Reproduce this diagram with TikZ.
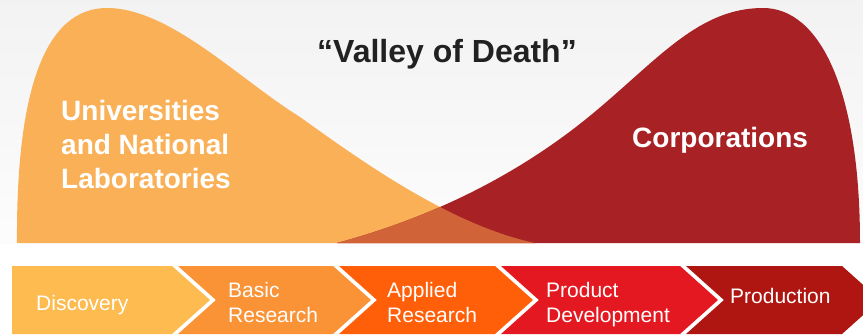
\documentclass[tikz,border=0pt]{standalone}
\usepackage{fontspec}
\setmainfont{Liberation Sans}
\usepackage{xcolor}

\definecolor{uniorange}{RGB}{249,176,87}
\definecolor{corpred}{RGB}{168,34,37}
\definecolor{bothfill}{RGB}{208,100,56}
\definecolor{discoveryfill}{RGB}{253,187,80}
\definecolor{basicfill}{RGB}{250,146,54}
\definecolor{appliedfill}{RGB}{255,95,8}
\definecolor{productfill}{RGB}{228,24,32}
\definecolor{productionfill}{RGB}{175,22,18}

\begin{document}
\begin{tikzpicture}[x=1pt, y=-1pt,
    stage/.style={anchor=north west, inner sep=0pt, align=left, text=white,
                  font=\fontsize{21}{25}\selectfont},
    sector/.style={anchor=north west, inner sep=0pt, align=left, text=white,
                   font=\bfseries\fontsize{28}{34}\selectfont}]
\useasboundingbox (0,0) rectangle (863,335);
\clip (0,0) rectangle (863,335);
\fill[white] (0,0) rectangle (863,335);
\shade[top color=gray!10, bottom color=gray!2] (0,0) rectangle (863,243);

% the two humps
\fill[uniorange] (17,243) .. controls (16,90) and (45,8) .. (107,8)
  .. controls (170,8) and (240,80) .. (300,117)
  .. controls (360,160) and (450,225) .. (535,243) -- cycle;
\fill[corpred] (337,243) .. controls (430,218) and (520,175) .. (597,110)
  .. controls (660,57) and (700,8) .. (763,8)
  .. controls (820,8) and (860,90) .. (860,243) -- cycle;
\begin{scope}
  \clip (17,243) .. controls (16,90) and (45,8) .. (107,8)
    .. controls (170,8) and (240,80) .. (300,117)
    .. controls (360,160) and (450,225) .. (535,243) -- cycle;
  \fill[bothfill] (337,243) .. controls (430,218) and (520,175) .. (597,110)
    .. controls (660,57) and (700,8) .. (763,8)
    .. controls (820,8) and (860,90) .. (860,243) -- cycle;
\end{scope}

\node[anchor=base, inner sep=0pt, text=black!87, font=\bfseries\fontsize{32}{38}\selectfont]
  (valley) at (447,62) {“Valley of Death”};
\node[sector] (univ) at (61,100) {Universities\\and National\\Laboratories};
\node[sector] (corp) at (632,127) {Corporations};

% pipeline arrows
\fill[discoveryfill] (12,266) -- (172,266) -- (210,300) -- (172,334) -- (12,334) -- cycle;
\fill[basicfill] (178,266) -- (333,266) -- (371,300) -- (333,334) -- (178,334) -- (216,300) -- cycle;
\fill[appliedfill] (339,266) -- (495,266) -- (533,300) -- (495,334) -- (339,334) -- (377,300) -- cycle;
\fill[productfill] (501,266) -- (680,266) -- (718,300) -- (680,334) -- (501,334) -- (539,300) -- cycle;
\fill[productionfill] (686,266) -- (842,266) -- (880,300) -- (842,334) -- (686,334) -- (724,300) -- cycle;

\node[stage] (discovery) at (36,295) {Discovery};
\node[stage] (basic) at (228,282) {Basic\\Research};
\node[stage] (applied) at (387,282) {Applied\\Research};
\node[stage] (product) at (546,282) {Product\\Development};
\node[stage] (production) at (730,288) {Production};
\end{tikzpicture}
\end{document}
